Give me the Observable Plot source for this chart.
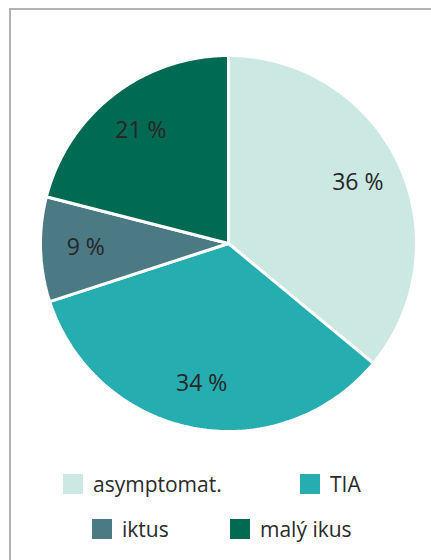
<!DOCTYPE html>
<html><head><meta charset="utf-8">
<script src="https://cdn.jsdelivr.net/npm/d3@7"></script>
<script src="https://cdn.jsdelivr.net/npm/@observablehq/plot@0.6"></script>
<style>
html,body{margin:0;padding:0;background:#fff;width:431px;height:560px;overflow:hidden;font-family:"Open Sans","Noto Sans",sans-serif;}
#frame{position:absolute;left:9px;top:8px;width:430px;height:560px;border-top:2px solid #b3b3b3;border-left:2px solid #b3b3b3;}
#chart{position:absolute;left:0;top:0;}
#legend{position:absolute;left:0;top:470px;width:431px;color:#2b2b2b;font-size:21px;line-height:28px;}
.row{position:absolute;display:flex;align-items:center;white-space:nowrap;height:28px;}
.sw{width:20px;height:20px;display:inline-block;margin-right:10px;}
</style></head>
<body>
<div id="frame"></div>
<div id="chart"></div>
<div id="legend"></div>
<script>
const categories = ["asymptomat.", "TIA", "iktus", "malý ikus"];
const values = [36, 34, 9, 21];
const labels = ["36 %", "34 %", "9 %", "21 %"];
const colors = ["#cce8e2", "#26adb0", "#4b7a85", "#006a52"];

const pie = d3.pie().sort(null).value(d => d.value)(categories.map((c, i) => ({category: c, value: values[i]})));
const poly = [];
pie.forEach((a) => {
  poly.push({category: a.data.category, x: 0, y: 0});
  const n = 120;
  for (let k = 0; k <= n; k++) {
    const t = a.startAngle + (a.endAngle - a.startAngle) * k / n;
    poly.push({category: a.data.category, x: Math.sin(t), y: Math.cos(t)});
  }
  poly.push({category: a.data.category, x: 0, y: 0});
});
const labelData = pie.map((a, i) => {
  const m = (a.startAngle + a.endAngle) / 2;
  return {label: labels[i], x: 0.76 * Math.sin(m), y: 0.76 * Math.cos(m)};
});

const W = 431, H = 450, cx = 228, cy = 243, R = 188;
const chart = Plot.plot({
  width: W, height: H, margin: 0,
  x: {domain: [-cx / R, (W - cx) / R], range: [0, W], axis: null},
  y: {domain: [(cy - H) / R, cy / R], range: [H, 0], axis: null},
  color: {domain: categories, range: colors},
  style: {background: "transparent", overflow: "visible"},
  marks: [
    Plot.line(poly, {x: "x", y: "y", z: "category", fill: "category", stroke: "white", strokeWidth: 3, strokeLinejoin: "miter", curve: "linear-closed"}),
    Plot.text(labelData, {x: "x", y: "y", text: "label", fill: "#262626", fontSize: 23, fontFamily: "Open Sans, Noto Sans, sans-serif"})
  ]
});
document.getElementById("chart").appendChild(chart);

const pos = [[63, 0], [300, 0], [92, 45], [230, 45]];
const leg = document.getElementById("legend");
categories.forEach((c, i) => {
  const r = document.createElement("div");
  r.className = "row";
  r.style.left = pos[i][0] + "px";
  r.style.top = pos[i][1] + "px";
  r.innerHTML = `<span class="sw" style="background:${colors[i]}"></span><span>${c}</span>`;
  leg.appendChild(r);
});
</script>
</body></html>
